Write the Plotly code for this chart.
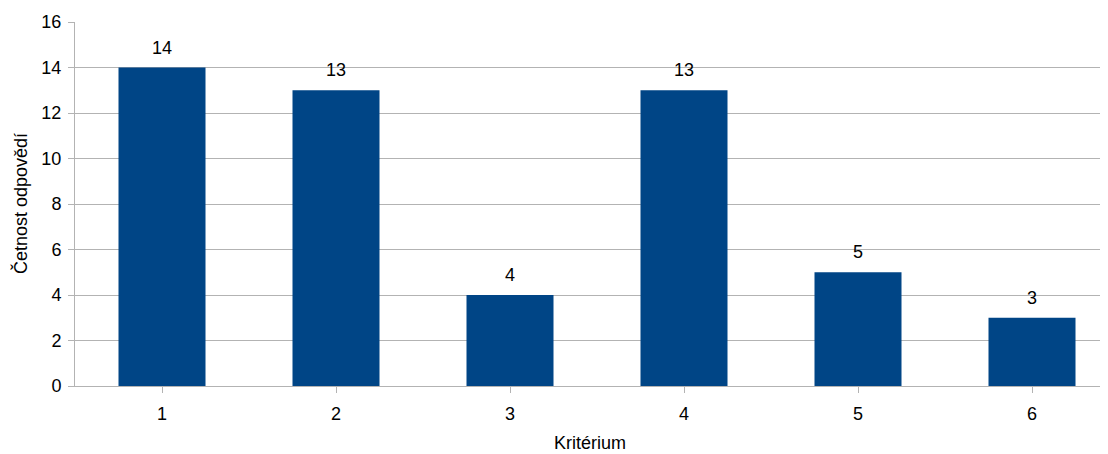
import plotly.graph_objects as go

categories = ["1", "2", "3", "4", "5", "6"]
values = [14, 13, 4, 13, 5, 3]
y_ticks = [0, 2, 4, 6, 8, 10, 12, 14, 16]

BAR = "#004586"
GRID = "#b3b3b3"
FONT = "Liberation Sans, Arial, sans-serif"

# body has an 8px default margin; compensate
OFF = 8
W, H = 1108 - OFF, 454 - OFF
L, T = 75 - OFF, 22 - OFF
PW, PH = 1108 - 75, 386 - 22

fig = go.Figure()
fig.add_trace(go.Bar(
    x=list(range(len(categories))), y=values,
    marker=dict(color=BAR, line=dict(width=0)),
    width=0.5,
    hoverinfo="skip",
))

for i, v in enumerate(values):
    fig.add_annotation(x=i, y=v, text=str(v), showarrow=False,
                       yshift=20, font=dict(size=18, color="#000", family=FONT))

fig.add_annotation(x=(590 - 75) / PW, y=-(443 - 386) / PH, xref="paper", yref="paper",
                   xanchor="center", yanchor="middle", text="Kritérium", showarrow=False,
                   font=dict(size=18, color="#000", family=FONT))

fig.add_annotation(x=(20 - 75) / PW, y=0.5, xref="paper", yref="paper",
                   xanchor="center", yanchor="middle", textangle=-90,
                   text="Četnost odpovědí", showarrow=False,
                   font=dict(size=18, color="#000", family=FONT))

fig.update_layout(
    width=W, height=H,
    margin=dict(l=L, r=0, t=T, b=H - T - PH, pad=0),
    paper_bgcolor="white", plot_bgcolor="white",
    showlegend=False,
    font=dict(family=FONT, size=18, color="#000"),
    xaxis=dict(
        range=[-0.5, -0.5 + PW / 174],
        tickmode="array", tickvals=list(range(len(categories))), ticktext=categories,
        tickson="boundaries", ticks="outside", ticklen=6, tickcolor=GRID, tickwidth=1,
        ticklabelstandoff=5,
        showline=True, linecolor=GRID, linewidth=1,
        showgrid=False, zeroline=False, automargin=False,
        tickfont=dict(size=18), fixedrange=True,
    ),
    yaxis=dict(
        range=[0, 16], tickvals=y_ticks,
        ticks="outside", ticklen=6, tickcolor=GRID, tickwidth=1,
        ticklabelstandoff=3,
        showline=True, linecolor=GRID, linewidth=1,
        showgrid=True, gridcolor=GRID, gridwidth=1,
        zeroline=False, automargin=False,
        tickfont=dict(size=18),
    ),
    bargap=0.5,
)
fig.write_html("out.html")
